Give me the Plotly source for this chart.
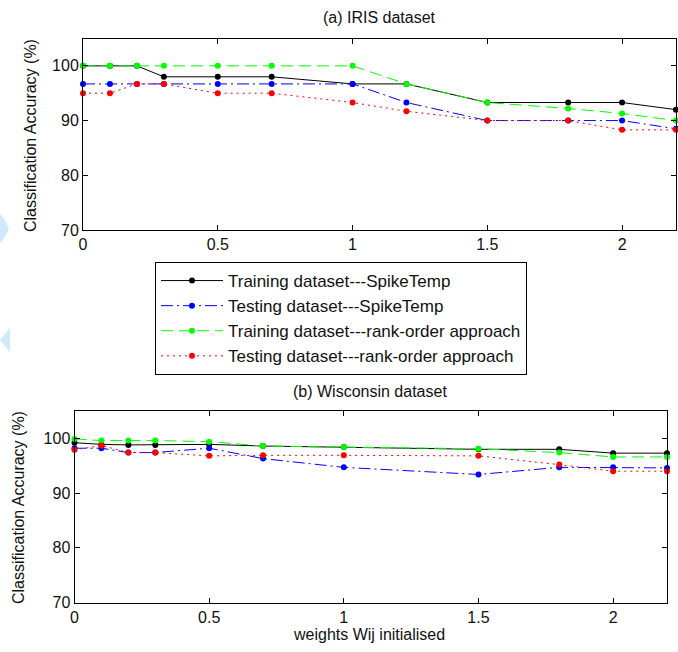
import plotly.graph_objects as go

# ---------------- data ----------------
x_iris = [0, 0.1, 0.2, 0.3, 0.5, 0.7, 1.0, 1.2, 1.5, 1.8, 2.0, 2.2]
iris_train_spike = [100, 100, 100, 98.0, 98.0, 98.0, 96.7, 96.7, 93.3, 93.3, 93.3, 92.0]
iris_test_spike = [96.7, 96.7, 96.7, 96.7, 96.7, 96.7, 96.7, 93.3, 90.0, 90.0, 90.0, 88.5]
iris_train_rank = [100, 100, 100, 100, 100, 100, 100, 96.7, 93.3, 92.2, 91.3, 90.0]
iris_test_rank = [95.0, 95.0, 96.7, 96.7, 95.0, 95.0, 93.3, 91.7, 90.0, 90.0, 88.3, 88.3]

x_wis = [0, 0.1, 0.2, 0.3, 0.5, 0.7, 1.0, 1.5, 1.8, 2.0, 2.2]
wis_train_spike = [99.2, 98.9, 98.8, 98.8, 98.9, 98.6, 98.4, 98.0, 98.0, 97.3, 97.3]
wis_test_spike = [98.2, 98.2, 97.4, 97.4, 98.2, 96.3, 94.7, 93.4, 94.7, 94.7, 94.6]
wis_train_rank = [99.9, 99.6, 99.6, 99.6, 99.4, 98.6, 98.4, 98.1, 97.4, 96.6, 96.6]
wis_test_rank = [97.9, 98.7, 97.4, 97.4, 96.8, 96.9, 96.9, 96.8, 95.2, 94.0, 94.0]

series_names = [
    "Training dataset---SpikeTemp",
    "Testing dataset---SpikeTemp",
    "Training dataset---rank-order approach",
    "Testing dataset---rank-order approach",
]
x_ticks = [0, 0.5, 1, 1.5, 2]
x_ticktext = ["0", "0.5", "1", "1.5", "2"]
y_ticks = [70, 80, 90, 100]

colors = ["#000000", "#0000ff", "#00ff00", "#ff0000"]
dashes = ["solid", "12px,4px,2px,4px", "12px,6px", "2px,4px"]

W, H = 678, 652
FONT = "Liberation Sans, Arial, sans-serif"
TXT = "#111111"

fig = go.Figure()

iris_sets = [iris_train_spike, iris_test_spike, iris_train_rank, iris_test_rank]
wis_sets = [wis_train_spike, wis_test_spike, wis_train_rank, wis_test_rank]

for i, ys in enumerate(iris_sets):
    fig.add_trace(go.Scatter(
        x=x_iris, y=ys, name=series_names[i], mode="lines+markers",
        line=dict(color=colors[i], width=1, dash=dashes[i]),
        marker=dict(color=colors[i], size=6, symbol="circle"),
        cliponaxis=False, xaxis="x", yaxis="y", showlegend=True,
    ))
for i, ys in enumerate(wis_sets):
    fig.add_trace(go.Scatter(
        x=x_wis, y=ys, name=series_names[i], mode="lines+markers",
        line=dict(color=colors[i], width=1, dash=dashes[i]),
        marker=dict(color=colors[i], size=6, symbol="circle"),
        cliponaxis=False, xaxis="x2", yaxis="y2", showlegend=False,
    ))

def px_x(p):
    return p / W

def px_y(p):
    return 1 - p / H

axis_common = dict(
    showline=True, linecolor="black", linewidth=1, mirror="ticks",
    ticks="inside", ticklen=5, tickcolor="black", tickwidth=1,
    showgrid=False, zeroline=False, automargin=False,
    tickfont=dict(family=FONT, size=16, color=TXT),
)

fig.update_layout(
    template="none",
    width=W, height=H,
    margin=dict(l=0, r=0, t=0, b=0, pad=0),
    paper_bgcolor="white", plot_bgcolor="white",
    font=dict(family=FONT, color=TXT),
    xaxis=dict(domain=[px_x(83), px_x(676)], range=[0, 2.2], tickvals=x_ticks,
               ticktext=x_ticktext, anchor="y", **axis_common),
    yaxis=dict(domain=[px_y(230), px_y(38.5)], range=[70, 105], tickvals=y_ticks,
               anchor="x", **axis_common),
    xaxis2=dict(domain=[px_x(74.5), px_x(667)], range=[0, 2.2], tickvals=x_ticks,
                ticktext=x_ticktext, anchor="y2", **axis_common),
    yaxis2=dict(domain=[px_y(602.5), px_y(411)], range=[70, 105], tickvals=y_ticks,
                anchor="x2", **axis_common),
    legend=dict(
        x=px_x(155), y=px_y(262), xanchor="left", yanchor="top",
        bgcolor="white", bordercolor="black", borderwidth=1,
        font=dict(family=FONT, size=17, color=TXT),
        itemwidth=62, tracegroupgap=0,
    ),
    showlegend=True,
)

annots = [
    dict(text="(a) IRIS dataset", x=px_x(379), y=px_y(18), textangle=0),
    dict(text="(b) Wisconsin dataset", x=px_x(370), y=px_y(391), textangle=0),
    dict(text="weights Wij initialised", x=px_x(369), y=px_y(634), textangle=0),
    dict(text="Classification Accuracy (%)", x=px_x(30), y=px_y(136), textangle=-90),
    dict(text="Classification Accuracy (%)", x=px_x(18), y=px_y(508), textangle=-90),
]
for a in annots:
    fig.add_annotation(
        text=a["text"], x=a["x"], y=a["y"], xref="paper", yref="paper",
        xanchor="center", yanchor="middle", showarrow=False,
        textangle=a["textangle"], font=dict(family=FONT, size=16, color=TXT),
    )

# faint light-blue watermark fragments at the left edge
def poly(pts):
    d = "M " + " L ".join(f"{px_x(a):.5f},{px_y(b):.5f}" for a, b in pts) + " Z"
    return d

for pts in [
    [(0, 214), (5, 220), (9, 229), (5, 237), (0, 243)],
    [(10, 328), (0, 340), (10, 352)],
]:
    fig.add_shape(type="path", path=poly(pts), xref="paper", yref="paper",
                  fillcolor="#cfeafb", line=dict(width=0), layer="below")

fig.write_html(
    "out.html",
    config={"displayModeBar": False},
    post_script="document.body.style.margin='0';document.body.style.overflow='hidden';",
)
